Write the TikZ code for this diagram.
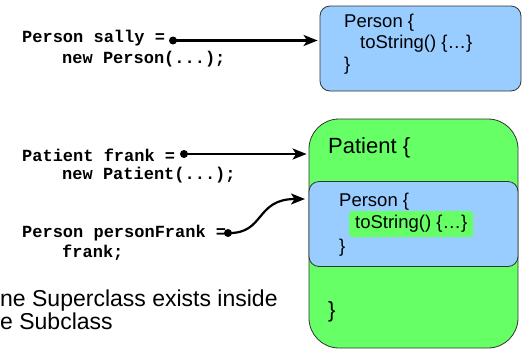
\documentclass[tikz,border=0pt]{standalone}
\usepackage{fontspec}
\setmainfont{Liberation Sans}
\newfontfamily\codefont{Liberation Mono}
\usetikzlibrary{arrows.meta}

\definecolor{objblue}{HTML}{99CCFF}
\definecolor{objgreen}{HTML}{66FF66}

\begin{document}
\begin{tikzpicture}
    [x=1pt,y=-1pt,every node/.style={inner sep=0pt},
     code/.style={anchor=west,font=\codefont\bfseries\fontsize{17}{20}\selectfont},
     txt/.style={anchor=west,font=\fontsize{18.5}{22}\selectfont},
     big/.style={anchor=west,font=\fontsize{22}{26}\selectfont},
     obj/.style={draw=black!80,line width=0.8pt,rounded corners=10pt},
     ref/.style={circle,fill=black,minimum size=8pt},
     arr/.style={-{Stealth[length=14pt,width=11pt,inset=3.5pt]},line width=2.2pt}]
    \useasboundingbox (0,0) rectangle (522,349);

    % the plain Person object
    \node[obj,fill=objblue,minimum width=201pt,minimum height=85pt] (person) at (420.5,48.5) {};
    \node[txt] (p-head) at (344,23) {Person \{};
    \node[txt] (p-tostr) at (360,44) {toString() \{…\}};
    \node[txt] (p-end) at (344,66) {\}};

    % Patient object with its Person part
    \node[obj,fill=objgreen,rounded corners=30pt,minimum width=209pt,minimum height=229pt] (patient) at (413.5,233.5) {};
    \node[big] (pt-head) at (328,148) {Patient \{};
    \node[obj,fill=objblue,minimum width=209pt,minimum height=85pt] (inner) at (413.5,224) {};
    \node[txt] (in-head) at (339,202) {Person \{};
    \node[txt,fill=objgreen,rounded corners=3pt,minimum width=124pt,minimum height=26pt] (in-tostr) at (349,224) {toString() \{…\}};
    \node[txt] (in-end) at (339,248) {\}};
    \node[big] (pt-end) at (328,312) {\}};

    % declarations
    \node[code] (c-sally) at (22,38) {Person sally =};
    \node[code] (c-sally2) at (62,59) {new Person(...);};
    \node[code] (c-frank) at (22,155) {Patient frank =};
    \node[code] (c-frank2) at (62,175) {new Patient(...);};
    \node[code] (c-pfrank) at (22,233) {Person personFrank =};
    \node[code] (c-pfrank2) at (62,253) {frank;};

    \node[ref] (sally) at (173,40.5) {};
    \node[ref] (frank) at (184,154) {};
    \node[ref] (pfrank) at (228,233) {};
    \coordinate (pf-tip) at (305,199);

    \foreach \from/\to in {sally/person, frank/patient}
    \draw[arr,shorten >=2pt] (\from.center) -- (\from -| \to.west);
    \draw[arr] (pfrank.center) .. controls +(37,1) and +(-50,0) .. (pf-tip);

    \node[anchor=west,font=\fontsize{23}{27}\selectfont] (cap1) at (0,301) {ne Superclass exists inside};
    \node[anchor=west,font=\fontsize{23}{27}\selectfont] (cap2) at (0,321) {e Subclass};
\end{tikzpicture}
\end{document}
